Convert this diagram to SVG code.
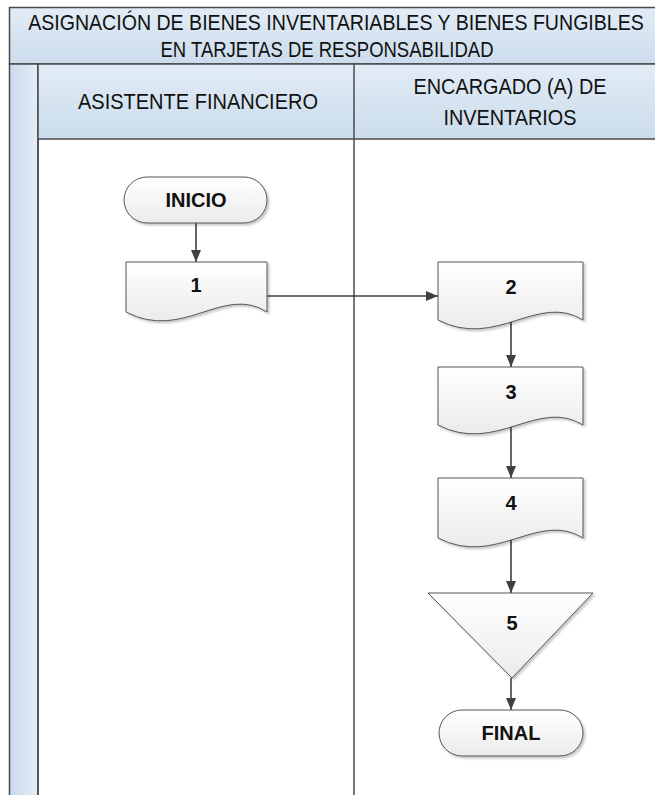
<svg xmlns="http://www.w3.org/2000/svg" width="655" height="795" viewBox="0 0 655 795">
<defs>
<linearGradient id="band" x1="0" y1="0" x2="0" y2="1">
<stop offset="0" stop-color="#e2ecf6"/>
<stop offset="1" stop-color="#cbdcec"/>
</linearGradient>
<linearGradient id="vband" x1="0" y1="0" x2="1" y2="0">
<stop offset="0" stop-color="#c9dbec"/>
<stop offset="1" stop-color="#e3edf7"/>
</linearGradient>
<linearGradient id="node" x1="0" y1="0" x2="0" y2="1">
<stop offset="0" stop-color="#ffffff"/>
<stop offset="1" stop-color="#ebebeb"/>
</linearGradient>
<filter id="sh" x="-10%" y="-10%" width="130%" height="140%">
<feDropShadow dx="2" dy="2" stdDeviation="1.2" flood-color="#000" flood-opacity="0.22"/>
</filter>
<marker id="arr" viewBox="0 0 12 10" refX="12" refY="5" markerWidth="12" markerHeight="10" markerUnits="userSpaceOnUse" orient="auto">
<path d="M0,0 L12,5 L0,10 Z" fill="#404040"/>
</marker>
</defs>
<style>
.hdr{font-family:"Liberation Sans",Arial,sans-serif;font-size:22px;fill:#111;text-anchor:middle}
.lbl{font-family:"Liberation Sans",Arial,sans-serif;font-size:20px;font-weight:bold;fill:#111;text-anchor:middle}
.shape{fill:url(#node);stroke:#555;stroke-width:1;filter:url(#sh)}
.conn{stroke:#404040;stroke-width:1.6;fill:none;marker-end:url(#arr)}
.frame{stroke:#4a4a4a;stroke-width:1.5}
</style>
<rect width="655" height="795" fill="#ffffff"/>
<g id="pool">
<rect x="9.5" y="7.5" width="660" height="56.5" fill="url(#band)" class="frame"/>
<rect x="9.5" y="64" width="28.5" height="740" fill="url(#vband)" class="frame"/>
<rect x="38" y="64" width="632" height="75" fill="url(#band)" class="frame"/>
<line x1="354" y1="64" x2="354" y2="800" class="frame"/>
<line x1="38" y1="139" x2="38" y2="800" class="frame"/>
<text class="hdr" transform="translate(336,29.5) scale(0.86,1)" x="0" y="0" textLength="716" lengthAdjust="spacingAndGlyphs">ASIGNACIÓN DE BIENES INVENTARIABLES Y BIENES FUNGIBLES</text>
<text class="hdr" x="327" y="57" textLength="333" lengthAdjust="spacingAndGlyphs">EN TARJETAS DE RESPONSABILIDAD</text>
<text class="hdr" x="198" y="108.5" textLength="240" lengthAdjust="spacingAndGlyphs">ASISTENTE FINANCIERO</text>
<text class="hdr" x="510" y="94" textLength="193" lengthAdjust="spacingAndGlyphs">ENCARGADO (A) DE</text>
<text class="hdr" x="510" y="125" textLength="133" lengthAdjust="spacingAndGlyphs">INVENTARIOS</text>
</g>
<g id="connectors">
<line x1="196" y1="223" x2="196" y2="262" class="conn"/>
<line x1="267" y1="296" x2="438" y2="296" class="conn"/>
<line x1="511" y1="322" x2="511" y2="367" class="conn"/>
<line x1="511" y1="427" x2="511" y2="478" class="conn"/>
<line x1="511" y1="540" x2="511" y2="593" class="conn"/>
<line x1="511" y1="678" x2="511" y2="710" class="conn"/>
</g>
<g id="inicio">
<rect x="124" y="177" width="143" height="46" rx="23" ry="23" class="shape"/>
<text class="lbl" x="196" y="207">INICIO</text>
</g>
<g id="doc1">
<path d="M126,262 H267 V312 C223,284 183,342 126,312 Z" class="shape"/>
<text class="lbl" x="196" y="292">1</text>
</g>
<g id="doc2">
<path d="M438,262 H583 V320 C538,292 496,350 438,320 Z" class="shape"/>
<text class="lbl" x="511" y="294">2</text>
</g>
<g id="doc3">
<path d="M438,367 H583 V425 C538,397 496,455 438,425 Z" class="shape"/>
<text class="lbl" x="511" y="399">3</text>
</g>
<g id="doc4">
<path d="M438,478 H583 V538 C538,510 496,568 438,538 Z" class="shape"/>
<text class="lbl" x="511" y="510">4</text>
</g>
<g id="merge5">
<path d="M428,593 H593 L512,678 Z" class="shape"/>
<text class="lbl" x="512" y="630">5</text>
</g>
<g id="final">
<rect x="439" y="710" width="144" height="46" rx="23" ry="23" class="shape"/>
<text class="lbl" x="511" y="740">FINAL</text>
</g>
</svg>
